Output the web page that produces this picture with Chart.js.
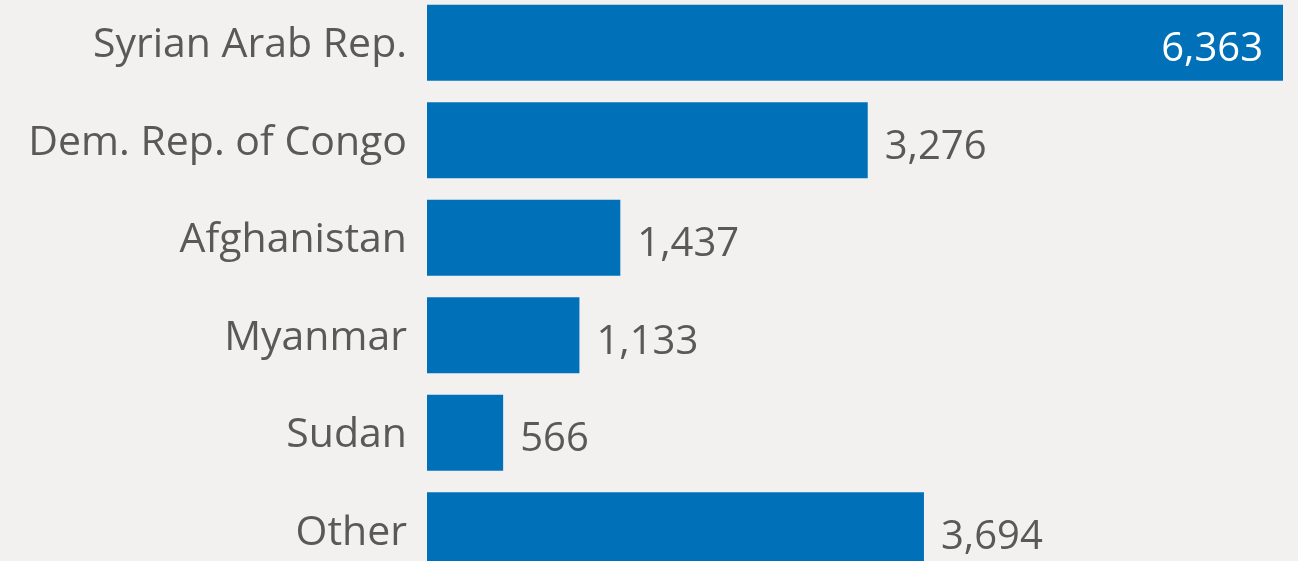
<!DOCTYPE html>
<html>
<head>
<meta charset="utf-8">
<script src="https://cdn.jsdelivr.net/npm/chart.js@4/dist/chart.umd.min.js"></script>
<style>
  html, body { margin: 0; padding: 0; background: #f2f1f0; overflow: hidden; }
  #wrap { position: relative; width: 1298px; height: 561px; overflow: hidden; }
  #chart { position: absolute; left: 0; top: -6px; }
</style>
</head>
<body>
<div id="wrap"><canvas id="chart" width="1298" height="585"></canvas></div>
<script>
const countries = ["Syrian Arab Rep.", "Dem. Rep. of Congo", "Afghanistan", "Myanmar", "Sudan", "Other"];
const refugees = [6363, 3276, 1437, 1133, 566, 3694];

const FONT = "'Open Sans', 'Noto Sans', sans-serif";
const TEXT_GRAY = "#595959";
const BAR_BLUE = "#0070b9";

// value labels: white inside the bar when it won't fit outside, gray otherwise
const valueLabels = {
  id: "valueLabels",
  afterDatasetsDraw(chart) {
    const ctx = chart.ctx;
    const area = chart.chartArea;
    const meta = chart.getDatasetMeta(0);
    ctx.save();
    ctx.font = "40px " + FONT;
    ctx.textBaseline = "middle";
    meta.data.forEach((bar, i) => {
      const txt = refugees[i].toLocaleString("en-US");
      const w = ctx.measureText(txt).width;
      const y = bar.y + 7;
      if (bar.x + 20 + w > area.right) {
        ctx.fillStyle = "#ffffff";
        ctx.textAlign = "right";
        ctx.fillText(txt, bar.x - 20, y);
      } else {
        ctx.fillStyle = TEXT_GRAY;
        ctx.textAlign = "left";
        ctx.fillText(txt, bar.x + 17, y);
      }
    });
    ctx.restore();
  },
};

new Chart(document.getElementById("chart").getContext("2d"), {
  type: "bar",
  data: {
    labels: countries,
    datasets: [
      {
        data: refugees,
        backgroundColor: BAR_BLUE,
        categoryPercentage: 1,
        barPercentage: 0.78,
      },
    ],
  },
  options: {
    indexAxis: "y",
    responsive: false,
    animation: false,
    devicePixelRatio: 1,
    layout: { padding: { top: 0, bottom: 0, left: 0, right: 15 } },
    plugins: { legend: { display: false }, tooltip: { enabled: false } },
    scales: {
      x: { display: false, min: 0, max: 6363 },
      y: {
        afterFit: (scale) => {
          scale.width = 427;
          scale.paddingTop = 0;
          scale.paddingBottom = 0;
        },
        border: { display: false },
        grid: { display: false, drawTicks: false },
        ticks: { color: TEXT_GRAY, padding: 20, labelOffset: 3, font: { family: FONT, size: 41 } },
      },
    },
  },
  plugins: [valueLabels],
});
</script>
</body>
</html>
